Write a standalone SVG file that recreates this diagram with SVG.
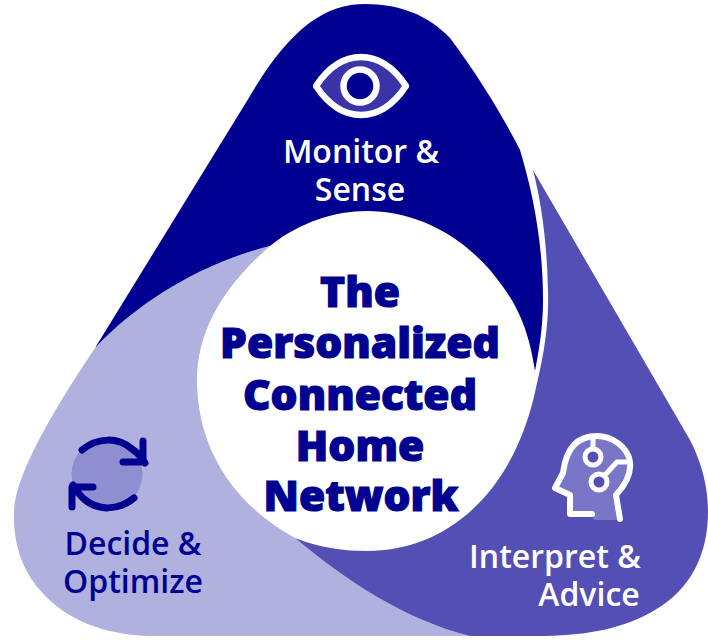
<svg xmlns="http://www.w3.org/2000/svg" width="708" height="640" viewBox="0 0 708 640">
<style>
.lbl{font-family:"Open Sans","Noto Sans",sans-serif;font-size:32px;font-weight:600;text-anchor:middle}
.w{fill:#fff}.n{fill:#000091}
.t{font-family:"Open Sans","Noto Sans",sans-serif;font-weight:800;font-size:42.5px;fill:#000091;text-anchor:middle;stroke:#000091;stroke-width:1.2px}
.ws{fill:none;stroke:#fff;stroke-linecap:round;stroke-linejoin:round}
.ns{fill:none;stroke:#000091;stroke-width:7;stroke-linecap:round;stroke-linejoin:round}
</style>
<rect width="708" height="640" fill="#fff"/>
<g id="decide">
<path fill="#b1b1df" d="M270 246 C225 285 197 330 197 380 C197 450 235 505 295 538 C345 580 405 620 470 636 L150 636 C105 635 65 620 40 590 C18 565 13 535 14 510 C16 475 50 415 95 348 C140 300 205 262 270 246Z"/>
<circle cx="107" cy="474" r="35.500" fill="#8e8ed0"/>
<path class="ns" d="M82 450 C98 437 118 437 132 449 C138 453 142 458 145 463 M143 441 L143 462 L123 462"/>
<path class="ns" d="M134 498 C118 511 98 511 84 499 C79 495 76 490 73 485 M72 507 L72 487 L93 487"/>
<text class="lbl n" x="133" y="555">Decide &amp;</text>
<text class="lbl n" x="133" y="593">Optimize</text>
</g>
<g id="monitor">
<path fill="#000091" d="M95 348 L250 96 C290 28 325 4 365 4 C400 4 428 15 450 38 C478 75 505 120 520 150 C532 190 543 240 543 300 C543 325 540 345 535 371 C528 325 515 300 490 270 C455 230 410 211 367 211 C335 211 300 222 270 246 C205 262 140 300 95 348Z"/>
<path fill="#3b34a8" stroke="#fff" stroke-width="6.500" stroke-linejoin="round" d="M316 86 C330 65 345 57 361 57 C377 57 392 65 406 86 C392 107 377 115 361 115 C345 115 330 107 316 86Z"/>
<circle cx="360" cy="86" r="16.500" fill="#000091" stroke="#fff" stroke-width="6.500"/>
<text class="lbl w" x="361" y="163">Monitor &amp;</text>
<text class="lbl w" x="360" y="201">Sense</text>
</g>
<g id="interpret">
<path fill="#544fb4" d="M533 170 L690 440 C703 465 708 490 708 512 C708 555 690 590 655 610 C625 628 590 635 545 636 L470 636 C405 620 345 580 295 538 C320 548 345 551 367 551 C445 551 515 495 537 383 C545 350 549 320 548 290 C547 245 542 205 533 170Z"/>
<path fill="#7a76c7" d="M597 436 C578 436 566 448 563 473 L555 488 L570 495 L570 514 L592 514 L594 520 L620 520 L616 495 C628 482 631 470 630 462 C628 447 612 436 597 436Z"/>
<path class="ws" stroke-width="6" d="M620 519 L616 495 C628 482 631 470 630 462 C628 447 612 436 597 436 C578 436 566 448 563 473 L555 488 L570 495 L570 514 L592 514"/>
<path class="ws" stroke-width="5" d="M593 437 L593 450 M605 475 L617 462 L628 462"/>
<circle cx="593" cy="457" r="8" fill="#544fb4" stroke="#fff" stroke-width="5"/>
<circle cx="599" cy="482" r="8" fill="#544fb4" stroke="#fff" stroke-width="5"/>
<text class="lbl w" x="555" y="568">Interpret &amp;</text>
<text class="lbl w" x="589" y="606">Advice</text>
</g>
<g id="center">
<text class="t" x="360" y="307">The</text>
<text class="t" x="360" y="358">Personalized</text>
<text class="t" x="360" y="410">Connected</text>
<text class="t" x="360" y="461">Home</text>
<text class="t" x="361" y="511">Network</text>
</g>
<g id="connectors"/>
</svg>
